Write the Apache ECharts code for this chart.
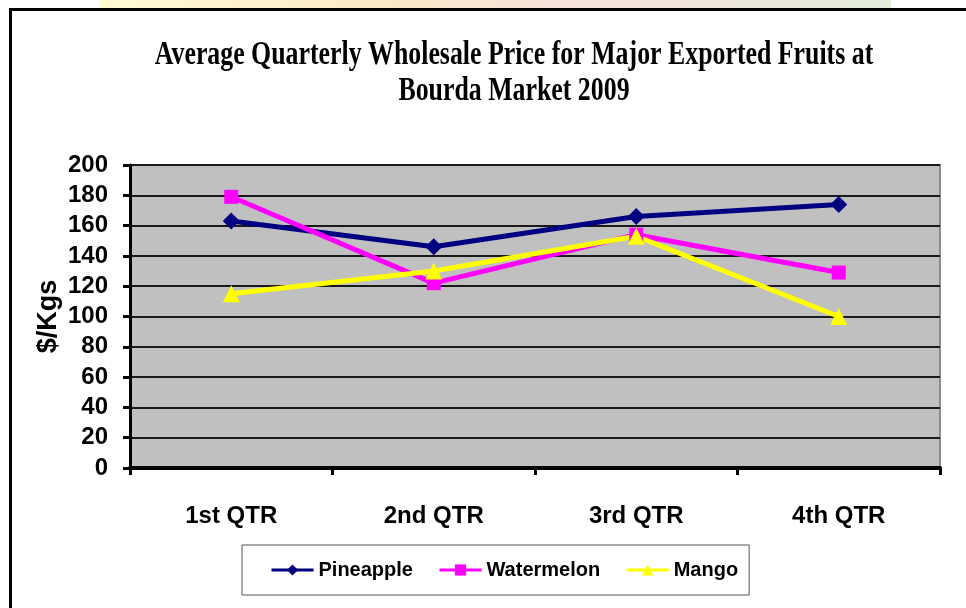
<!DOCTYPE html>
<html>
<head>
<meta charset="utf-8">
<title>Bourda Market 2009</title>
<script src="https://cdn.jsdelivr.net/npm/echarts@6/dist/echarts.min.js"></script>
<style>
  html, body { margin: 0; padding: 0; background: #fff; }
  #chart-container { width: 966px; height: 608px; }
</style>
</head>
<body>
<div id="chart-container"></div>
<script>
var quarters = ['1st QTR', '2nd QTR', '3rd QTR', '4th QTR'];
var pineapple = [163, 146, 166, 174];
var watermelon = [179, 122, 154, 129];
var mango = [115, 130, 153, 100];
var yTicks = [0, 200, 20]; // min, max, step

var sans = "'Liberation Sans', Arial, sans-serif";
var serif = "bold 34px 'Liberation Serif', 'Times New Roman', serif";

var dom = document.getElementById('chart-container');
var myChart = echarts.init(dom, null, { renderer: 'canvas' });

var option = {
  backgroundColor: '#ffffff',
  animation: false,
  graphic: [
    {
      // faded slide background peeking over the top edge
      type: 'rect',
      shape: { x: 99, y: 0, width: 792, height: 8 },
      style: {
        fill: new echarts.graphic.LinearGradient(0, 0, 1, 0, [
          { offset: 0, color: '#fffbd2' },
          { offset: 0.35, color: '#fdeac8' },
          { offset: 0.6, color: '#f6e2dc' },
          { offset: 1, color: '#e4ecdc' }
        ])
      },
      silent: true
    },
    {
      type: 'rect',
      shape: { x: 9, y: 8, width: 957, height: 3 },
      style: { fill: '#000' },
      silent: true
    },
    {
      type: 'rect',
      shape: { x: 9, y: 8, width: 3, height: 600 },
      style: { fill: '#000' },
      silent: true
    },
    {
      type: 'text',
      x: 514, y: 55,
      scaleX: 0.76,
      style: {
        text: 'Average Quarterly Wholesale Price for Major Exported Fruits at',
        x: 0, y: 0,
        align: 'center', verticalAlign: 'middle',
        font: serif,
        fill: '#000'
      },
      silent: true
    },
    {
      type: 'text',
      x: 514, y: 91,
      scaleX: 0.76,
      style: {
        text: 'Bourda Market 2009',
        x: 0, y: 0,
        align: 'center', verticalAlign: 'middle',
        font: serif,
        fill: '#000'
      },
      silent: true
    }
  ],
  legend: {
    data: ['Pineapple', 'Watermelon', 'Mango'],
    left: 242,
    top: 545,
    orient: 'horizontal',
    padding: [15, 11, 15, 28],
    itemWidth: 42,
    itemHeight: 14,
    itemGap: 25,
    borderColor: '#555',
    borderWidth: 1,
    backgroundColor: '#fff',
    lineStyle: { width: 3 },
    textStyle: {
      fontFamily: sans,
      fontWeight: 'bold',
      fontSize: 20,
      color: '#000'
    }
  },
  grid: {
    left: 130,
    right: 26,
    top: 165,
    bottom: 140,
    show: true,
    backgroundColor: '#c0c0c0',
    borderColor: '#8c8c8c',
    borderWidth: 2
  },
  xAxis: {
    type: 'category',
    data: quarters,
    boundaryGap: true,
    axisLine: { lineStyle: { color: '#000', width: 4 } },
    axisTick: { show: true, length: 7, lineStyle: { color: '#000', width: 3 } },
    axisLabel: {
      margin: 36,
      fontFamily: sans,
      fontWeight: 'bold',
      fontSize: 24,
      color: '#000'
    },
    splitLine: { show: false }
  },
  yAxis: {
    type: 'value',
    min: yTicks[0],
    max: yTicks[1],
    interval: yTicks[2],
    name: '$/Kgs',
    nameLocation: 'middle',
    nameGap: 68,
    nameMoveOverlap: false,
    nameRotate: 90,
    nameTextStyle: {
      fontFamily: sans,
      fontWeight: 'bold',
      fontSize: 27,
      color: '#000'
    },
    axisLine: { show: true, lineStyle: { color: '#000', width: 3 } },
    axisTick: { show: true, length: 7, lineStyle: { color: '#000', width: 3 } },
    axisLabel: {
      margin: 22,
      fontFamily: sans,
      fontWeight: 'bold',
      fontSize: 24,
      color: '#000'
    },
    splitLine: { show: true, lineStyle: { color: '#1a1a1a', width: 2 } }
  },
  series: [
    {
      name: 'Pineapple',
      type: 'line',
      data: pineapple,
      color: '#000080',
      symbol: 'diamond',
      symbolSize: 17,
      lineStyle: { width: 5 }
    },
    {
      name: 'Watermelon',
      type: 'line',
      data: watermelon,
      color: '#ff00ff',
      symbol: 'rect',
      symbolSize: 14,
      lineStyle: { width: 5 }
    },
    {
      name: 'Mango',
      type: 'line',
      data: mango,
      color: '#ffff00',
      symbol: 'triangle',
      symbolSize: 17,
      lineStyle: { width: 5 }
    }
  ]
};

myChart.setOption(option);
window.addEventListener('resize', myChart.resize);
</script>
</body>
</html>
